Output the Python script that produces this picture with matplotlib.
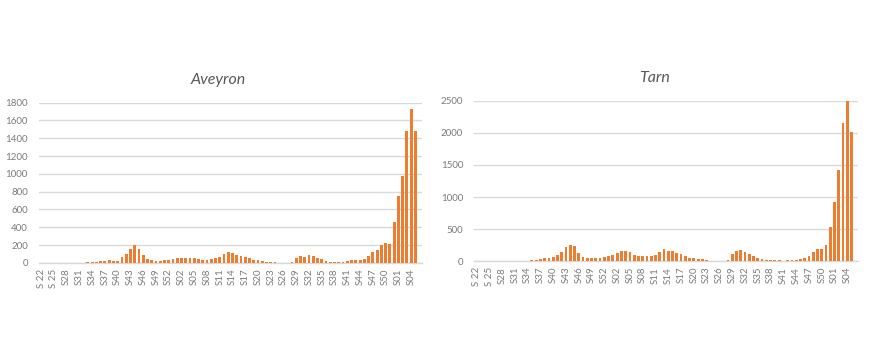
import numpy as np
import matplotlib
matplotlib.use("Agg")
import matplotlib.pyplot as plt

plt.rcParams['font.family'] = ['Lato', 'DejaVu Sans']

# weekly counts, S22 (2020) -> S05 (2022), one value per week
aveyron = [0, 0, 0, 1, 1, 1, 1, 2, 2, 3, 3, 4,
           6, 11, 16, 26, 27, 26, 22, 71, 105, 157, 199, 157, 86, 41, 30, 22,
           26, 30, 34, 45, 56, 56, 52, 60, 49, 45, 30, 34, 38, 55, 71, 97,
           120, 109, 86, 82, 67, 56, 34, 34, 26, 15, 11, 7, 2, 0, 1, 15,
           52, 79, 71, 90, 79, 52, 41, 26, 15, 11, 11, 15, 26, 34, 34, 34,
           45, 82, 120, 146, 199, 225, 217, 461, 754, 971, 1477, 1732, 1477]

tarn = [0, 0, 0, 0, 0, 0, 1, 1, 2, 3, 5, 8,
        10, 16, 21, 36, 47, 57, 67, 99, 140, 228, 249, 239, 130, 62, 47, 47,
        47, 57, 67, 78, 93, 130, 156, 161, 145, 104, 83, 83, 90, 88, 104, 145,
        187, 161, 161, 135, 114, 83, 47, 47, 36, 36, 16, 5, 5, 5, 5, 21,
        109, 161, 171, 145, 109, 78, 52, 31, 21, 16, 16, 16, 10, 21, 26, 26,
        31, 47, 88, 150, 187, 197, 260, 540, 924, 1422, 2149, 2502, 2009]

week_ticks = ["S 22", "S 25", "S28", "S31", "S34", "S37", "S40", "S43", "S46",
              "S49", "S52", "S02", "S05", "S08", "S11", "S14", "S17", "S20",
              "S23", "S26", "S29", "S32", "S35", "S38", "S41", "S44", "S47",
              "S50", "S01", "S04"]

orange = "#ED7D31"
grid = "#D9D9D9"
txt = "#7A7A7A"

fig = plt.figure(figsize=(8.7, 3.5), dpi=100)


def draw(rect, values, ymax, ystep, title, title_xy):
    ax = fig.add_axes(rect)
    x = np.arange(len(values))
    ax.bar(x, values, width=0.66, color=orange, zorder=3)
    ax.set_xlim(-0.5, len(values) + 0.5)
    ax.set_ylim(0, ymax)
    ax.set_yticks(np.arange(0, ymax + 1, ystep))
    ax.set_xticks(np.arange(0, 3 * len(week_ticks), 3))
    ax.set_xticklabels(week_ticks, rotation=90)
    ax.tick_params(axis='both', length=0, labelsize=7, colors=txt)
    ax.tick_params(axis='y', pad=8)
    ax.tick_params(axis='x', pad=4)
    ax.grid(axis='y', color=grid, linewidth=1, zorder=0)
    for s in ['top', 'right', 'left']:
        ax.spines[s].set_visible(False)
    ax.spines['bottom'].set_color(grid)
    ax.spines['bottom'].set_linewidth(1)
    fig.text(title_xy[0] / 870, 1 - title_xy[1] / 350, title, ha='center',
             va='center', fontsize=11.5, style='italic', color="#595959")
    return ax


draw([0.0448, 0.249, 0.440, 0.4577], aveyron, 1800, 200, "Aveyron", (218, 80))
draw([0.5452, 0.2534, 0.441, 0.4589], tarn, 2500, 500, "Tarn", (655, 78))

fig.savefig("out.png", dpi=100, facecolor="white")
